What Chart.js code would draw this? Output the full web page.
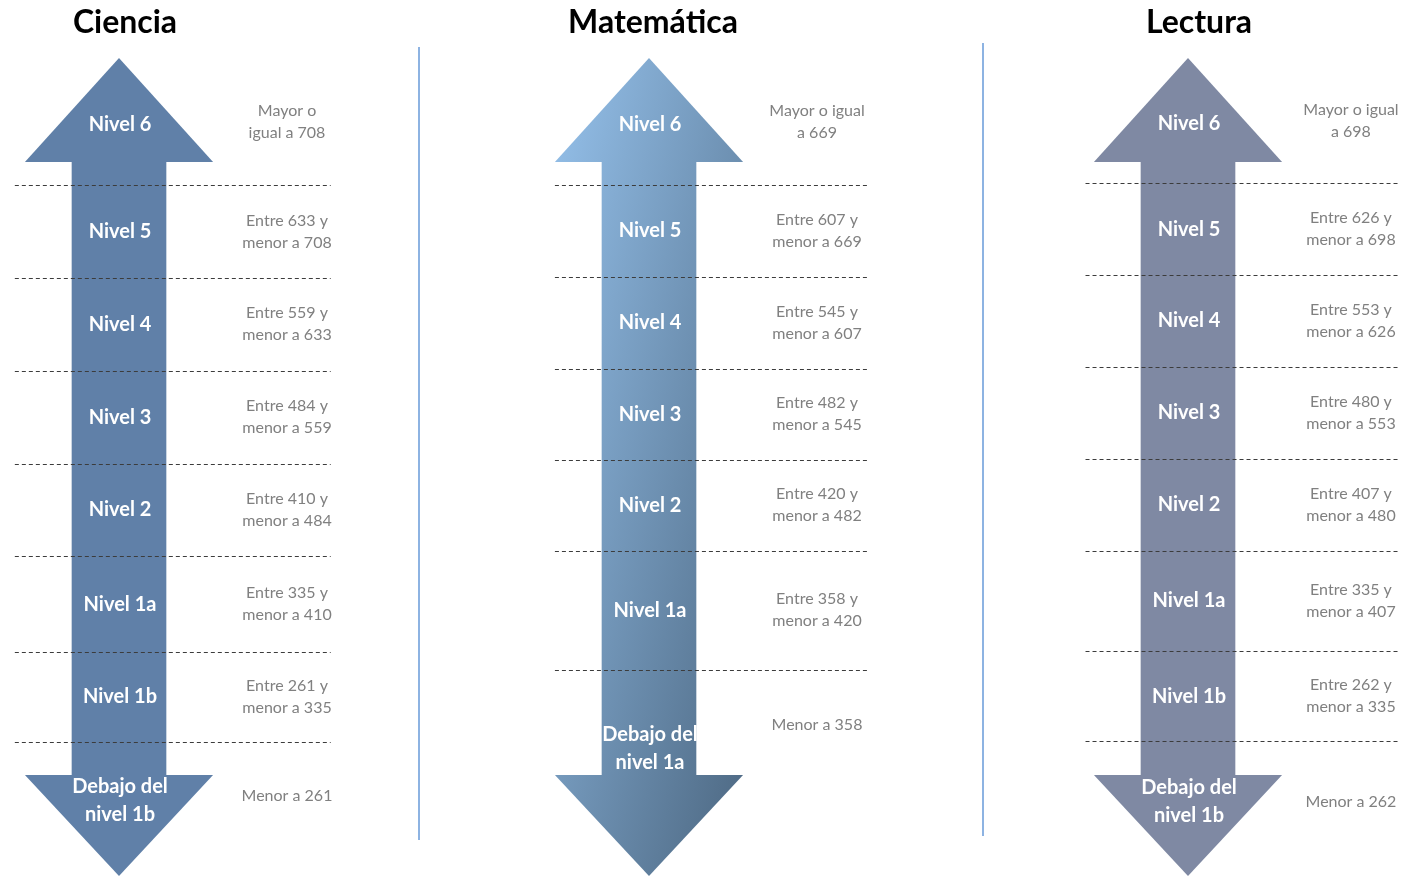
<!DOCTYPE html>
<html>
<head>
<meta charset="utf-8">
<script src="https://cdn.jsdelivr.net/npm/chart.js@4/dist/chart.umd.min.js"></script>
<style>
    body { margin: 0; background: #fff; overflow: hidden; }
    #lienzo { position: relative; width: 1420px; height: 876px; overflow: hidden; }
    #lienzo canvas { position: absolute; top: 0; }
    .divisor { position: absolute; width: 2px; background: #8db3e2; }
</style>
</head>
<body>
<div id="lienzo">
    <canvas id="graficoCiencia" width="535" height="876" style="left:0px"></canvas>
    <canvas id="graficoMatematica" width="535" height="876" style="left:530px"></canvas>
    <canvas id="graficoLectura" width="535" height="876" style="left:1069px"></canvas>
    <div class="divisor" style="left:418px;top:47px;height:793px"></div>
    <div class="divisor" style="left:982px;top:43px;height:793px"></div>
</div>
<script>
// Datos
var materias = ['Ciencia', 'Matemática', 'Lectura'];

var nivelesCiencia = ['Nivel 6', 'Nivel 5', 'Nivel 4', 'Nivel 3', 'Nivel 2', 'Nivel 1a', 'Nivel 1b', 'Debajo del\nnivel 1b'];
var nivelesMatematica = ['Nivel 6', 'Nivel 5', 'Nivel 4', 'Nivel 3', 'Nivel 2', 'Nivel 1a', 'Debajo del\nnivel 1a'];
var nivelesLectura = ['Nivel 6', 'Nivel 5', 'Nivel 4', 'Nivel 3', 'Nivel 2', 'Nivel 1a', 'Nivel 1b', 'Debajo del\nnivel 1b'];

// puntaje minimo de cada nivel (de arriba hacia abajo)
var puntajesCiencia = [708, 633, 559, 484, 410, 335, 261];
var puntajesMatematica = [669, 607, 545, 482, 420, 358];
var puntajesLectura = [698, 626, 553, 480, 407, 335, 262];

// Forma de la flecha (unidades del eje y: un nivel = 1)
var PUNTA_SUP = -0.368;
var BASE_SUP = 0.752;
var BASE_INF = 7.355;
var PUNTA_INF = 8.443;
var MEDIA_PUNTA = 0.56;   // medio ancho de la punta, unidades del eje x
var PX_UNIDAD_X = 168;
var CENTRO_X = 119;

function textosRangos(puntajes, mayor) {
    var textos = [mayor + puntajes[0]];
    for (var i = 1; i < puntajes.length; i++) {
        textos.push('Entre ' + puntajes[i] + ' y\nmenor a ' + puntajes[i - 1]);
    }
    textos.push('Menor a ' + puntajes[puntajes.length - 1]);
    return textos;
}

function rellenoDegradado(chart) {
    var x = chart.scales.x, y = chart.scales.y;
    if (!x || !y) return '#7a9ec4';
    var cx = x.getPixelForValue(0);
    var media = x.getPixelForValue(MEDIA_PUNTA) - cx;
    var x0 = cx - media, y0 = y.getPixelForValue(PUNTA_SUP);
    var W = media * 2, H = y.getPixelForValue(PUNTA_INF) - y0;
    if (!isFinite(x0) || !isFinite(y0) || !isFinite(W) || !isFinite(H) || H <= 0) return '#7a9ec4';
    var k = 2 * W * H / (W * W + H * H);
    var g = chart.ctx.createLinearGradient(x0, y0, x0 + H * k, y0 + W * k);
    g.addColorStop(0, '#95c1eb');
    g.addColorStop(1, '#4c6781');
    return g;
}

function multilinea(ctx, texto, x, y, alto) {
    var lineas = texto.split('\n');
    var y0 = y - (lineas.length - 1) * alto / 2;
    lineas.forEach(function (l, i) {
        ctx.fillText(l, x, y0 + i * alto);
    });
}

var flechaPlugin = {
    id: 'flecha',
    afterDatasetsDraw: function (chart, args, opts) {
        var ctx = chart.ctx, x = chart.scales.x, y = chart.scales.y;
        var cx = x.getPixelForValue(0);
        var media = x.getPixelForValue(MEDIA_PUNTA) - cx;
        var relleno = opts.degradado ? rellenoDegradado(chart) : opts.color;

        ctx.save();
        // puntas
        ctx.fillStyle = relleno;
        ctx.beginPath();
        ctx.moveTo(cx, y.getPixelForValue(PUNTA_SUP));
        ctx.lineTo(cx + media, y.getPixelForValue(BASE_SUP));
        ctx.lineTo(cx - media, y.getPixelForValue(BASE_SUP));
        ctx.closePath();
        ctx.fill();
        ctx.beginPath();
        ctx.moveTo(cx - media, y.getPixelForValue(BASE_INF));
        ctx.lineTo(cx + media, y.getPixelForValue(BASE_INF));
        ctx.lineTo(cx, y.getPixelForValue(PUNTA_INF));
        ctx.closePath();
        ctx.fill();

        // lineas punteadas entre niveles
        ctx.strokeStyle = '#3c3c3c';
        ctx.lineWidth = 1;
        ctx.setLineDash([4, 3]);
        opts.limites.forEach(function (v) {
            var py = Math.round(y.getPixelForValue(v)) + 0.5;
            ctx.beginPath();
            ctx.moveTo(x.getPixelForValue(opts.linea[0]), py);
            ctx.lineTo(x.getPixelForValue(opts.linea[1]), py);
            ctx.stroke();
        });
        ctx.setLineDash([]);

        var bordes = [PUNTA_SUP].concat(opts.limites);
        ctx.textAlign = 'center';
        ctx.textBaseline = 'middle';

        // niveles dentro de la flecha
        ctx.fillStyle = '#ffffff';
        ctx.font = 'bold 20px Lato';
        opts.niveles.forEach(function (n, i) {
            var v = i < opts.niveles.length - 1 ? (bordes[i] + bordes[i + 1]) / 2 : opts.ultimaEtiqueta;
            if (i === 0) v += 0.03;
            multilinea(ctx, n, cx + 1, y.getPixelForValue(v), 28);
        });

        // rangos de puntaje
        ctx.fillStyle = '#808080';
        ctx.font = '16px Lato';
        opts.rangos.forEach(function (r, i) {
            var v = i < opts.rangos.length - 1 ? (bordes[i] + bordes[i + 1]) / 2 : opts.ultimoRango;
            multilinea(ctx, r, x.getPixelForValue(opts.columnaTexto), y.getPixelForValue(v), 22);
        });

        // titulo
        ctx.fillStyle = '#000000';
        ctx.font = 'bold 32px Lato';
        ctx.fillText(opts.titulo, cx + opts.desplTitulo, 23);
        ctx.restore();
    }
};

function graficoNiveles(id, titulo, niveles, rangos, diseno) {
    var canvas = document.getElementById(id);
    return new Chart(canvas, {
        type: 'bar',
        data: {
            datasets: [{
                data: [{ x: 0, y: [BASE_SUP - 0.1, BASE_INF + 0.1] }],
                backgroundColor: function (context) {
                    return diseno.degradado ? rellenoDegradado(context.chart) : diseno.color;
                },
                borderWidth: 0,
                barThickness: 94
            }]
        },
        options: {
            responsive: false,
            animation: false,
            layout: { padding: { top: 58, bottom: 0, left: 0, right: 0 } },
            scales: {
                x: {
                    type: 'linear', display: false, offset: false,
                    min: -CENTRO_X / PX_UNIDAD_X,
                    max: (canvas.width - CENTRO_X) / PX_UNIDAD_X
                },
                y: {
                    type: 'linear', display: false, reverse: true, beginAtZero: false,
                    min: PUNTA_SUP, max: PUNTA_INF
                }
            },
            plugins: {
                legend: { display: false },
                tooltip: { enabled: false },
                flecha: {
                    titulo: titulo,
                    niveles: niveles,
                    rangos: rangos,
                    limites: diseno.limites,
                    color: diseno.color,
                    degradado: diseno.degradado,
                    ultimaEtiqueta: diseno.ultimaEtiqueta,
                    ultimoRango: diseno.ultimoRango,
                    linea: diseno.linea,
                    columnaTexto: diseno.columnaTexto,
                    desplTitulo: diseno.desplTitulo
                }
            }
        },
        plugins: [flechaPlugin]
    });
}

graficoNiveles('graficoCiencia', materias[0], nivelesCiencia,
    textosRangos(puntajesCiencia, 'Mayor o\nigual a '),
    { color: '#6080a8', limites: [1, 2, 3, 4, 5, 6.03, 7], ultimaEtiqueta: 7.63, ultimoRango: 7.58,
      linea: [-0.62, 1.26], columnaTexto: 1, desplTitulo: 6 });

graficoNiveles('graficoMatematica', materias[1], nivelesMatematica,
    textosRangos(puntajesMatematica, 'Mayor o igual\na '),
    { degradado: true, limites: [1, 1.99, 2.98, 3.96, 4.94, 6.22], ultimaEtiqueta: 7.07, ultimoRango: 6.82,
      linea: [-0.56, 1.31], columnaTexto: 1, desplTitulo: 4 });

graficoNiveles('graficoLectura', materias[2], nivelesLectura,
    textosRangos(puntajesLectura, 'Mayor o igual\na '),
    { color: '#7f89a3', limites: [0.98, 1.97, 2.96, 3.95, 4.94, 6.02, 6.99], ultimaEtiqueta: 7.64, ultimoRango: 7.64,
      linea: [-0.61, 1.26], columnaTexto: 0.97, desplTitulo: 11 });
</script>
</body>
</html>
